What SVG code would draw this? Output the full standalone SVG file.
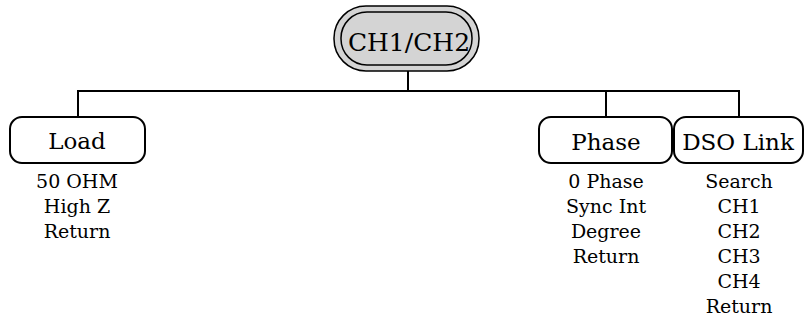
<svg xmlns="http://www.w3.org/2000/svg" width="807" height="321" viewBox="0 0 807 321">
<style>
.box{fill:#fff;stroke:#000;stroke-width:2}
.pill{fill:#d4d4d4;stroke:#000;stroke-width:1.5}
.wire{fill:none;stroke:#000;stroke-width:2}
</style>
<rect width="807" height="321" fill="#fff"/>
<g id="connectors">
<path class="wire" d="M408,71 V91 M78,117 V91 H739 V117 M606,91 V117"/>
</g>
<g font-family="DejaVu Serif, serif" text-anchor="middle" fill="#000">
<g id="ch1ch2">
<rect class="pill" x="334" y="6" width="145" height="65" rx="32" ry="32"/>
<rect class="pill" x="341" y="12" width="131" height="53" rx="26" ry="26"/>
<text x="409" y="51" font-size="25">CH1/CH2</text>
</g>
<g id="load" font-size="19">
<rect class="box" x="10" y="117" width="135" height="46" rx="12" ry="12"/>
<text x="77" y="149" font-size="23">Load</text>
<text x="77" y="188">50 OHM</text>
<text x="77" y="213">High Z</text>
<text x="77" y="238">Return</text>
</g>
<g id="phase" font-size="19">
<rect class="box" x="539" y="117" width="133" height="46" rx="12" ry="12"/>
<text x="606" y="150" font-size="23">Phase</text>
<text x="606" y="188">0 Phase</text>
<text x="606" y="213">Sync Int</text>
<text x="606" y="238">Degree</text>
<text x="606" y="263">Return</text>
</g>
<g id="dsolink" font-size="19">
<rect class="box" x="674" y="117" width="129" height="46" rx="12" ry="12"/>
<text x="738" y="150" font-size="23">DSO Link</text>
<text x="739" y="188">Search</text>
<text x="739" y="213">CH1</text>
<text x="739" y="238">CH2</text>
<text x="739" y="263">CH3</text>
<text x="739" y="288">CH4</text>
<text x="739" y="313">Return</text>
</g>
</g>
</svg>
